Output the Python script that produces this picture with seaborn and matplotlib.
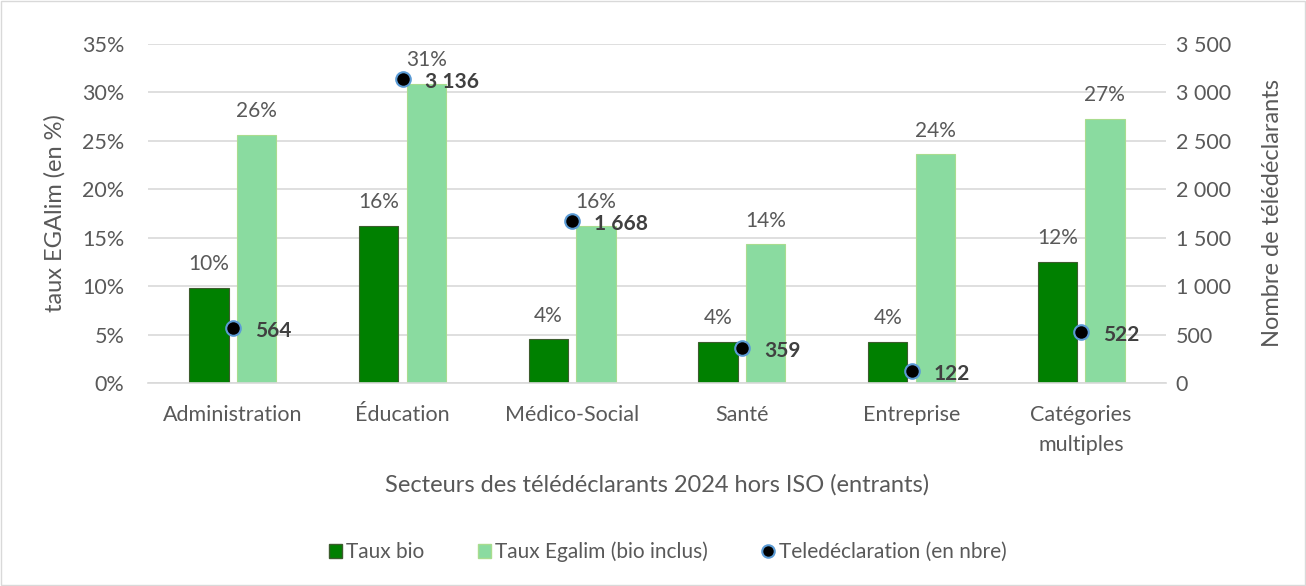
import numpy as np
import pandas as pd
import matplotlib
matplotlib.use("Agg")
import matplotlib.pyplot as plt
import seaborn as sns
from matplotlib.patches import Patch
from matplotlib.lines import Line2D
from matplotlib.ticker import FuncFormatter, MultipleLocator

categories = ["Administration", "Éducation", "Médico-Social", "Santé", "Entreprise", "Catégories\nmultiples"]
taux_bio = [9.8, 16.2, 4.5, 4.2, 4.2, 12.5]
taux_egalim = [25.6, 30.9, 16.2, 14.3, 23.6, 27.3]
bio_labels = ["10%", "16%", "4%", "4%", "4%", "12%"]
egalim_labels = ["26%", "31%", "16%", "14%", "24%", "27%"]
teledeclarations = [564, 3136, 1668, 359, 122, 522]
count_labels = ["564", "3 136", "1 668", "359", "122", "522"]

series_names = ["Taux bio", "Taux Egalim (bio inclus)"]
col_bio = "#008000"
col_egalim = "#8ADBA0"
txt = "#595959"

sns.set_theme(style="white")
plt.rcParams["font.family"] = ["Lato", "DejaVu Sans"]

df = pd.DataFrame({
    "cat": categories * 2,
    "val": taux_bio + taux_egalim,
    "serie": [series_names[0]] * len(categories) + [series_names[1]] * len(categories),
})

fig = plt.figure(figsize=(13.06, 5.86), dpi=100)
ax = fig.add_axes([148 / 1306, 1 - 383 / 586, (1166 - 148) / 1306, (383 - 44) / 586])

sns.barplot(data=df, x="cat", y="val", hue="serie", order=categories,
            hue_order=series_names, palette=[col_bio, col_egalim],
            width=0.56, gap=0.17, ax=ax, legend=False, errorbar=None,
            saturation=1)
for p in ax.containers[0]:
    p.set_edgecolor("#3d5c2e")
    p.set_linewidth(0.8)
for p in ax.containers[1]:
    p.set_edgecolor("#a9dc8f")
    p.set_linewidth(0.8)

ax.bar_label(ax.containers[0], labels=bio_labels, padding=10, fontsize=15, color=txt)
ax.bar_label(ax.containers[1], labels=egalim_labels, padding=10, fontsize=15, color=txt)

ax.set_ylim(0, 35)
ax.set_xlim(-0.5, 5.5)
ax.yaxis.set_major_locator(MultipleLocator(5))
ax.yaxis.set_major_formatter(FuncFormatter(lambda v, p: f"{int(round(v))}%"))
ax.grid(axis="y", color="#d9d9d9", linewidth=1.2)
ax.set_axisbelow(True)
for s in ["top", "right", "left"]:
    ax.spines[s].set_visible(False)
ax.spines["bottom"].set_color("#d9d9d9")
ax.spines["bottom"].set_linewidth(1.2)
ax.tick_params(axis="both", length=0, labelsize=15.5, labelcolor=txt)
ax.tick_params(axis="y", pad=17)
ax.tick_params(axis="x", pad=16)
for lab in ax.get_xticklabels():
    lab.set_linespacing(1.6)
ax.set_ylabel("taux EGAlim (en %)", fontsize=17, color=txt, labelpad=12)
ax.set_xlabel("Secteurs des télédéclarants 2024 hors ISO (entrants)", fontsize=17,
              color=txt, labelpad=14)

ax2 = ax.twinx()
xpos = np.arange(len(categories))
sns.scatterplot(x=xpos, y=teledeclarations, ax=ax2, color="black", s=110,
                edgecolor="#5b9bd5", linewidth=1.5, zorder=5, legend=False)
for xi, yi, lab in zip(xpos, teledeclarations, count_labels):
    ax2.annotate(lab, (xi, yi), xytext=(16, -2), textcoords="offset points",
                 ha="left", va="center", fontsize=15, fontweight="bold", color="#404040")
ax2.set_ylim(0, 3500)
ax2.yaxis.set_major_locator(MultipleLocator(500))
ax2.yaxis.set_major_formatter(FuncFormatter(lambda v, p: f"{int(v):,}".replace(",", " ")))
for s in ["top", "right", "left", "bottom"]:
    ax2.spines[s].set_visible(False)
ax2.tick_params(axis="y", length=0, labelsize=15.5, labelcolor=txt, pad=7)
ax2.set_ylabel("Nombre de télédéclarants", fontsize=17, color=txt, labelpad=22)
ax2.grid(False)

handles = [
    Patch(facecolor=col_bio, edgecolor="#3d5c2e", label=series_names[0]),
    Patch(facecolor=col_egalim, edgecolor="#a9dc8f", label=series_names[1]),
    Line2D([], [], linestyle="none", marker="o", markersize=9, markerfacecolor="black",
           markeredgecolor="#5b9bd5", markeredgewidth=1.5, label="Teledéclaration (en nbre)"),
]
leg = fig.legend(handles=handles, loc="center", bbox_to_anchor=(668 / 1306, 1 - 552 / 586),
                 ncol=3, frameon=False, fontsize=15, handlelength=0.6, handleheight=0.6,
                 handletextpad=0.2, columnspacing=2.6)
for t in leg.get_texts():
    t.set_color(txt)

fig.patches.append(plt.Rectangle((0.001, 0.001), 0.998, 0.998, transform=fig.transFigure,
                                 fill=False, edgecolor="#d9d9d9", linewidth=1))
fig.savefig("out.png", dpi=100)
